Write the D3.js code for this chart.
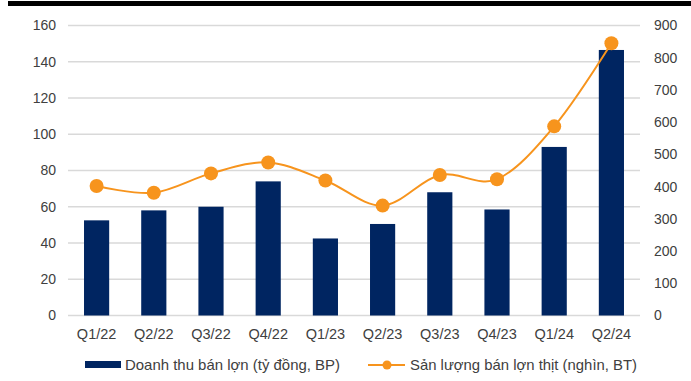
<!DOCTYPE html>
<html>
<head>
<meta charset="utf-8">
<script src="https://cdn.jsdelivr.net/npm/d3@7"></script>
<style>
  html, body { margin: 0; padding: 0; background: #fff; }
  svg { display: block; font-family: "Liberation Sans", Arial, sans-serif; }
</style>
</head>
<body>
<svg id="chart" width="691" height="381"></svg>
<script>
// Quarterly pork retail figures
const quarters = ["Q1/22", "Q2/22", "Q3/22", "Q4/22", "Q1/23", "Q2/23", "Q3/23", "Q4/23", "Q1/24", "Q2/24"];
const revenue = [52.5, 58, 60, 74, 42.5, 50.5, 68, 58.5, 93, 146.5];       // tỷ đồng
const volume  = [402, 381, 441, 475, 419, 341, 436, 423, 587, 845];         // nghìn
const leftTicks  = [0, 20, 40, 60, 80, 100, 120, 140, 160];
const rightTicks = [0, 100, 200, 300, 400, 500, 600, 700, 800, 900];
const barLabel  = "Doanh thu bán lợn (tỷ đồng, BP)";
const lineLabel = "Sản lượng bán lợn thịt (nghìn, BT)";

const navy = "#002561";
const orange = "#F7941D";
const textColor = "#404040";
const gridColor = "#d9d9d9";
const fontSize = 14;

const svg = d3.select("#chart");

// header rule
svg.append("rect").attr("x", 8).attr("y", 1).attr("width", 683).attr("height", 5).attr("fill", "#000");

const plot = { left: 68, right: 640, top: 25.5, bottom: 315.5 };

const x = d3.scaleBand().domain(quarters).range([plot.left, plot.right]).paddingInner(0.56).paddingOuter(0.28);
const yL = d3.scaleLinear().domain([0, 160]).range([plot.bottom, plot.top]);
const yR = d3.scaleLinear().domain([0, 900]).range([plot.bottom, plot.top]);

// gridlines
svg.append("g").selectAll("line").data(leftTicks).join("line")
  .attr("x1", plot.left).attr("x2", plot.right)
  .attr("y1", d => yL(d)).attr("y2", d => yL(d))
  .attr("stroke", gridColor).attr("stroke-width", 1.3);

// left axis
const axL = svg.append("g").attr("transform", `translate(${plot.left},0)`)
  .call(d3.axisLeft(yL).tickValues(leftTicks).tickSize(0).tickPadding(12));
axL.select(".domain").remove();
axL.selectAll("text").attr("fill", textColor).style("font-size", fontSize + "px").style("font-family", "Liberation Sans, Arial, sans-serif");

// right axis
const axR = svg.append("g").attr("transform", `translate(${plot.right},0)`)
  .call(d3.axisRight(yR).tickValues(rightTicks).tickSize(0).tickPadding(14));
axR.select(".domain").remove();
axR.selectAll("text").attr("fill", textColor).style("font-size", fontSize + "px").style("font-family", "Liberation Sans, Arial, sans-serif");

// bottom axis labels
const axB = svg.append("g").attr("transform", `translate(0,${plot.bottom})`)
  .call(d3.axisBottom(x).tickSize(0).tickPadding(13));
axB.select(".domain").remove();
axB.selectAll("text").attr("fill", textColor).style("font-size", "14.5px").style("font-family", "Liberation Sans, Arial, sans-serif");

// bars
svg.append("g").selectAll("rect").data(quarters).join("rect")
  .attr("x", d => x(d))
  .attr("width", x.bandwidth())
  .attr("y", (d, i) => yL(revenue[i]))
  .attr("height", (d, i) => yL(0) - yL(revenue[i]))
  .attr("fill", navy);

// smoothed line with markers
const pts = quarters.map((q, i) => [x(q) + x.bandwidth() / 2, yR(volume[i])]);
svg.append("path")
  .attr("d", d3.line().curve(d3.curveCardinal.tension(0))(pts))
  .attr("fill", "none").attr("stroke", orange).attr("stroke-width", 2);
svg.append("g").selectAll("circle").data(pts).join("circle")
  .attr("cx", d => d[0]).attr("cy", d => d[1]).attr("r", 7)
  .attr("fill", orange);

// legend
const lg = svg.append("g").style("font-size", "14.5px").attr("fill", textColor);
lg.append("rect").attr("x", 85).attr("y", 361).attr("width", 36).attr("height", 7).attr("fill", navy);
lg.append("text").attr("x", 125).attr("y", 370).attr("textLength", 215).attr("lengthAdjust", "spacingAndGlyphs").text(barLabel);
lg.append("line").attr("x1", 368).attr("x2", 405).attr("y1", 365).attr("y2", 365)
  .attr("stroke", orange).attr("stroke-width", 2);
lg.append("circle").attr("cx", 387).attr("cy", 365).attr("r", 4.5).attr("fill", orange);
lg.append("text").attr("x", 410).attr("y", 370).attr("textLength", 227).attr("lengthAdjust", "spacingAndGlyphs").text(lineLabel);
</script>
</body>
</html>
